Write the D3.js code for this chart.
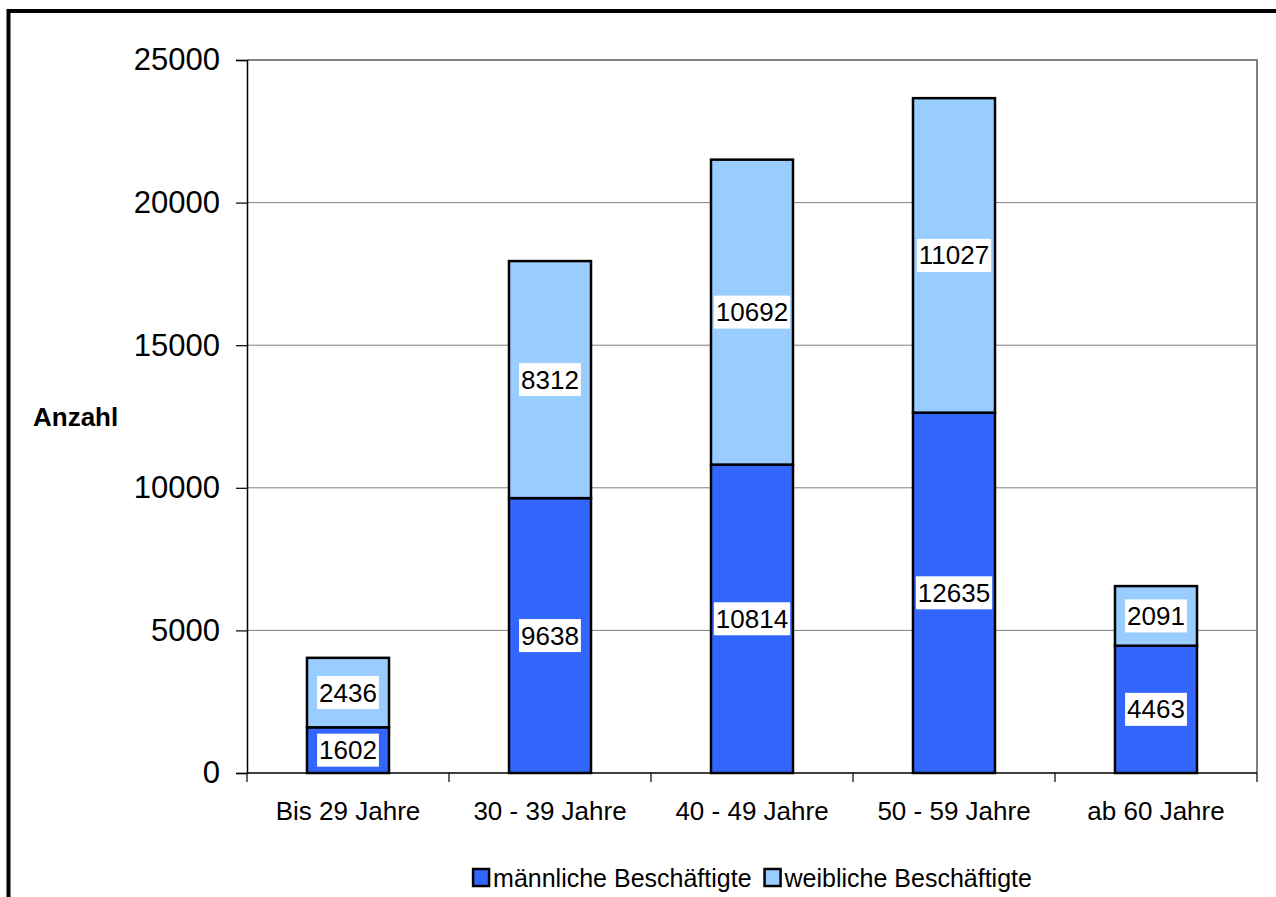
<!DOCTYPE html>
<html>
<head>
<meta charset="utf-8">
<script src="https://cdn.jsdelivr.net/npm/d3@7"></script>
<style>
  html, body { margin: 0; padding: 0; background: #fff; }
  svg { display: block; font-family: "Liberation Sans", Arial, sans-serif; }
</style>
</head>
<body>
<svg id="chart" width="1276" height="897"></svg>
<script>
// Beschäftigte nach Altersgruppen und Geschlecht
const categories = ["Bis 29 Jahre", "30 - 39 Jahre", "40 - 49 Jahre", "50 - 59 Jahre", "ab 60 Jahre"];
const maleValues = [1602, 9638, 10814, 12635, 4463];
const femaleValues = [2436, 8312, 10692, 11027, 2091];
const seriesNames = ["männliche Beschäftigte", "weibliche Beschäftigte"];
const seriesColors = ["#3366FF", "#99CCFF"];
const yTicks = [0, 5000, 10000, 15000, 20000, 25000];
const yTitle = "Anzahl";

const svg = d3.select("#chart");

// outer frame
svg.append("rect")
  .attr("x", 8.5).attr("y", 11)
  .attr("width", 1300).attr("height", 1000)
  .attr("fill", "none").attr("stroke", "#000").attr("stroke-width", 4);

const plot = { left: 247, right: 1257, top: 60, bottom: 773 };

const x = d3.scaleBand()
  .domain(categories)
  .range([plot.left, plot.right])
  .paddingInner(0.594)
  .paddingOuter(0.297);

const y = d3.scaleLinear()
  .domain([0, d3.max(yTicks)])
  .range([plot.bottom, plot.top]);

// gridlines
svg.append("g").selectAll("line")
  .data(yTicks.filter(t => t > 0))
  .join("line")
  .attr("x1", plot.left).attr("x2", plot.right)
  .attr("y1", d => y(d)).attr("y2", d => y(d))
  .attr("stroke", "#808080")
  .attr("stroke-width", d => d === d3.max(yTicks) ? 2 : 1);

// right border of the plot area
svg.append("line")
  .attr("x1", plot.right).attr("x2", plot.right)
  .attr("y1", plot.top - 1).attr("y2", plot.bottom)
  .attr("stroke", "#808080").attr("stroke-width", 2);

// stacked bars
const rows = categories.map((c, i) => ({ cat: c, male: maleValues[i], female: femaleValues[i] }));
const stack = d3.stack().keys(["male", "female"]);
const layers = stack(rows);

const barG = svg.append("g");
layers.forEach((layer, li) => {
  barG.append("g").selectAll("rect")
    .data(layer)
    .join("rect")
    .attr("x", d => x(d.data.cat))
    .attr("width", x.bandwidth())
    .attr("y", d => y(d[1]))
    .attr("height", d => y(d[0]) - y(d[1]))
    .attr("fill", seriesColors[li])
    .attr("stroke", "#000")
    .attr("stroke-width", 2.5);
});

// axes
const yAxis = d3.axisLeft(y).tickValues(yTicks).tickSize(11).tickPadding(16).tickFormat(d3.format("d"));
const yg = svg.append("g").attr("transform", `translate(${plot.left},0)`).call(yAxis);
yg.select(".domain").attr("stroke", "#000").attr("stroke-width", 1.5);
yg.selectAll(".tick line").attr("stroke", "#000").attr("stroke-width", 1.2);
yg.selectAll(".tick text").attr("font-size", 31).attr("fill", "#000")
  .attr("font-family", "Liberation Sans, Arial, sans-serif");

const xAxis = d3.axisBottom(x).tickSize(0).tickPadding(29);
const xg = svg.append("g").attr("transform", `translate(0,${plot.bottom})`).call(xAxis);
xg.select(".domain").remove();
xg.selectAll(".tick text").attr("font-size", 26).attr("fill", "#000")
  .attr("font-family", "Liberation Sans, Arial, sans-serif");

// baseline and category separator ticks
svg.append("line")
  .attr("x1", plot.left).attr("x2", plot.right)
  .attr("y1", plot.bottom).attr("y2", plot.bottom)
  .attr("stroke", "#000").attr("stroke-width", 1.5);
const sepX = d3.range(categories.length + 1).map(i => plot.left + i * x.step());
svg.append("g").selectAll("line")
  .data(sepX)
  .join("line")
  .attr("x1", d => d).attr("x2", d => d)
  .attr("y1", plot.bottom).attr("y2", plot.bottom + 9)
  .attr("stroke", "#000").attr("stroke-width", 1.2);

// value labels with white boxes
const labelG = svg.append("g");
layers.forEach(layer => {
  layer.forEach(d => {
    const v = d[1] - d[0];
    const cx = x(d.data.cat) + x.bandwidth() / 2;
    const cy = y((d[0] + d[1]) / 2);
    const g = labelG.append("g");
    const t = g.append("text")
      .attr("x", cx).attr("y", cy)
      .attr("text-anchor", "middle")
      .attr("dominant-baseline", "central")
      .attr("font-size", 26)
      .attr("fill", "#000")
      .text(v);
    const bb = t.node().getBBox();
    g.insert("rect", "text")
      .attr("x", bb.x - 2).attr("y", cy - 16.5)
      .attr("width", bb.width + 4).attr("height", 33)
      .attr("fill", "#fff");
  });
});

// y title
svg.append("text")
  .attr("x", 33).attr("y", 426)
  .attr("font-size", 26).attr("font-weight", "bold")
  .attr("fill", "#000")
  .text(yTitle);

// legend
const legend = svg.append("g");
const legendFont = 25;
let lx = 0;
seriesNames.forEach((name, i) => {
  const g = legend.append("g").attr("transform", `translate(${lx},0)`);
  g.append("rect").attr("x", 1).attr("y", -18).attr("width", 16).attr("height", 17)
    .attr("fill", seriesColors[i]).attr("stroke", "#000").attr("stroke-width", 2.5);
  const t = g.append("text").attr("x", 21).attr("y", 0)
    .attr("font-size", legendFont).attr("fill", "#000").text(name);
  lx += 21 + t.node().getComputedTextLength() + 12;
});
const legendW = lx - 12;
legend.attr("transform", `translate(${(plot.left + plot.right) / 2 - legendW / 2},887)`);
</script>
</body>
</html>
